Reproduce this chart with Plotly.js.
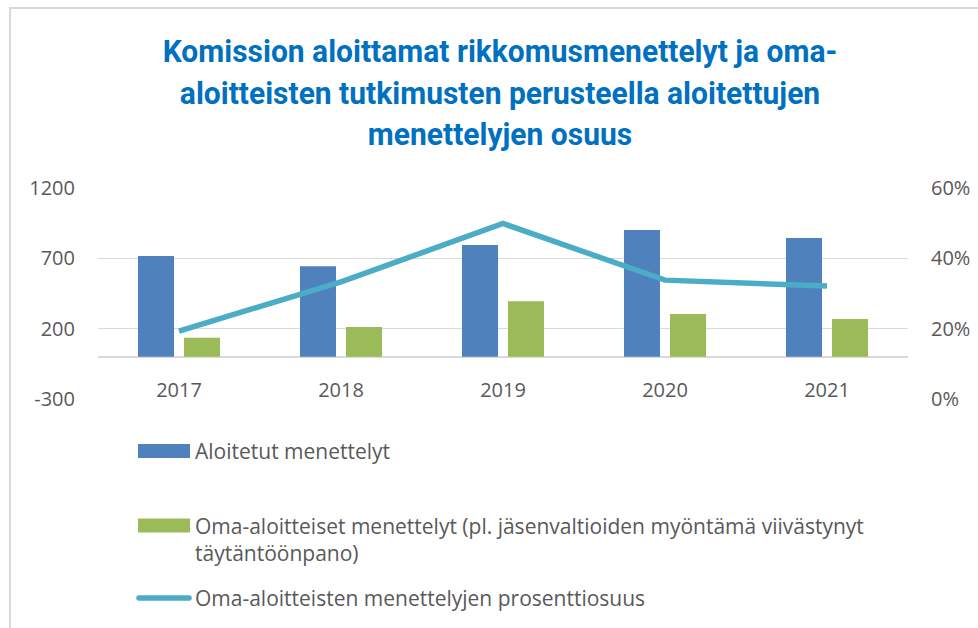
<!DOCTYPE html>
<html>
<head>
<meta charset="utf-8">
<script src="https://cdn.plot.ly/plotly-3.0.1.min.js"></script>
<style>
  html, body { margin: 0; padding: 0; background: #ffffff; }
  #chart { position: absolute; left: 0; top: 0; width: 978px; height: 628px; }
  #frame { position: absolute; left: 9px; top: 7px; right: 0; bottom: 0;
           border-left: 2px solid #d9d9d9; border-top: 2px solid #d9d9d9; pointer-events: none; }
</style>
</head>
<body>
<div id="chart"></div>
<div id="frame"></div>
<script>
// ---- data ----
const years = ['2017', '2018', '2019', '2020', '2021'];
const startedProcedures = [717, 644, 795, 902, 845];
const ownInitiativeProcedures = [136, 212, 395, 305, 269];
const ownInitiativeShare = [0.193, 0.333, 0.499, 0.338, 0.321];

const seriesNames = [
  'Aloitetut menettelyt',
  'Oma-aloitteiset menettelyt (pl. jäsenvaltioiden myöntämä viivästynyt<br>täytäntöönpano)',
  'Oma-aloitteisten menettelyjen prosenttiosuus'
];
const chartTitle = 'Komission aloittamat rikkomusmenettelyt ja oma-<br>aloitteisten tutkimusten perusteella aloitettujen<br>menettelyjen osuus';

const leftTicks = [-300, 200, 700, 1200];
const rightTicks = [0, 0.2, 0.4, 0.6];

// ---- styling ----
const textGray = '#595959';
const gridGray = '#d9d9d9';
const bodyFont = 'Open Sans, Lato, Liberation Sans, sans-serif';

const traces = [
  {
    type: 'bar', x: years, y: startedProcedures, name: seriesNames[0],
    marker: { color: '#4F81BD' }, legend: 'legend'
  },
  {
    type: 'bar', x: years, y: ownInitiativeProcedures, name: seriesNames[1],
    marker: { color: '#9BBB59' }, legend: 'legend2'
  },
  {
    type: 'scatter', mode: 'lines', x: years, y: ownInitiativeShare, name: seriesNames[2],
    yaxis: 'y2', line: { color: '#4BACC6', width: 5.5 }, legend: 'legend3'
  }
];

function legendAt(py, valign) {
  return {
    x: (125 - 98) / 810, xanchor: 'left',
    y: (398.7 - py) / 211, yanchor: 'middle',
    itemwidth: 60, valign: valign || 'middle',
    font: { family: bodyFont, size: 21, color: textGray },
    bgcolor: 'rgba(0,0,0,0)', borderwidth: 0
  };
}

const layout = {
  width: 978, height: 628,
  paper_bgcolor: '#ffffff', plot_bgcolor: '#ffffff',
  margin: { l: 98, r: 70, t: 188, b: 229, autoexpand: false },
  font: { family: bodyFont, color: textGray },
  title: {
    text: chartTitle,
    font: { family: 'Roboto, Liberation Sans, sans-serif', size: 32, weight: 700, color: '#0070C0' },
    x: 500 / 978, xref: 'container', xanchor: 'center',
    y: 1 - 62 / 628, yref: 'container', yanchor: 'top'
  },
  barmode: 'group',
  bargap: 0.432,
  bargroupgap: 0.217,
  showlegend: true,
  hovermode: false,
  xaxis: {
    type: 'category', categoryarray: years,
    anchor: 'free', position: 0.2,
    showline: false, showgrid: false, zeroline: false, ticks: '',
    ticklabelstandoff: 19,
    tickfont: { family: bodyFont, size: 20, color: textGray }
  },
  yaxis: {
    range: [-300, 1200], tickmode: 'array', tickvals: leftTicks, ticktext: leftTicks.map(String),
    showgrid: true, gridcolor: gridGray, gridwidth: 1.6,
    zeroline: true, zerolinecolor: gridGray, zerolinewidth: 1.6,
    showline: false, ticks: '', ticklabelstandoff: 22,
    tickfont: { family: bodyFont, size: 20, color: textGray }
  },
  yaxis2: {
    overlaying: 'y', side: 'right', range: [0, 0.6],
    tickmode: 'array', tickvals: rightTicks, tickformat: '.0%',
    showgrid: false, zeroline: false, showline: false, ticks: '', ticklabelstandoff: 22,
    tickfont: { family: bodyFont, size: 20, color: textGray }
  },
  legend: legendAt(451),
  legend2: legendAt(539, 'top'),
  legend3: legendAt(598)
};

function toLocal(el, sx, sy) {
  const m = el.getScreenCTM().inverse();
  const pt = el.ownerSVGElement.createSVGPoint();
  pt.x = sx; pt.y = sy;
  return pt.matrixTransform(m);
}

Plotly.newPlot('chart', traces, layout, { staticPlot: true, displayModeBar: false }).then(function (gd) {
  // Condense the title (the reference uses a condensed bold face)
  const tg = gd.querySelector('.g-gtitle');
  const tt = tg && tg.querySelector('text');
  if (tt) {
    const bb = tt.getBBox();
    const s = Math.min(1, 675 / bb.width);
    const cx = bb.x + bb.width / 2;
    tg.setAttribute('transform', 'translate(' + cx + ',0) scale(' + s + ',1) translate(' + (-cx) + ',0)');
  }
  // Wide legend keys like the Excel original
  gd.querySelectorAll('.legendpoints path').forEach(function (p) {
    const r = p.getBoundingClientRect();
    if (!r.width) return;
    const cy = r.top + r.height / 2;
    const a = toLocal(p, 138, cy - 7), b = toLocal(p, 190, cy + 7);
    p.setAttribute('d', 'M' + a.x + ',' + a.y + 'H' + b.x + 'V' + b.y + 'H' + a.x + 'Z');
  });
  gd.querySelectorAll('.legendlines path').forEach(function (p) {
    const r = p.getBoundingClientRect();
    if (!r.width) return;
    const cy = r.top + r.height / 2;
    const a = toLocal(p, 139, cy), b = toLocal(p, 189, cy);
    p.setAttribute('d', 'M' + a.x + ',' + a.y + 'L' + b.x + ',' + b.y);
    p.style.strokeLinecap = 'round';
  });
});
</script>
</body>
</html>
